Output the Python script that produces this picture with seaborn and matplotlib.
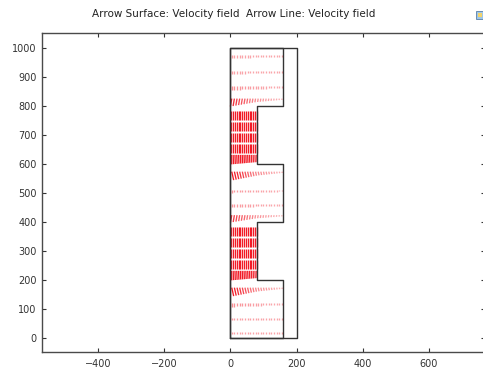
import numpy as np
import matplotlib
matplotlib.use("Agg")
import matplotlib.pyplot as plt
from matplotlib.patches import Rectangle
from matplotlib.collections import LineCollection
import seaborn as sns
import pandas as pd

# Channel outline: stepped inner channel and outer block
inner_x = [0, 160, 160, 80, 80, 160, 160, 80, 80, 160, 160, 0, 0]
inner_y = [0, 0, 200, 200, 400, 400, 600, 600, 800, 800, 1000, 1000, 0]
outer_x = [0, 200, 200, 0]
outer_y = [0, 0, 1000, 1000]

# Arrow rows: start height, channel width, arrow length at wall / middle / far side, sideways lean
row_y = [975, 920, 868, 826,
         782, 744, 706, 668, 632,
         574, 512, 462, 424,
         382, 344, 306, 268, 232,
         174, 120, 70, 22]
row_width = [160, 160, 160, 160,
             80, 80, 80, 80, 80,
             160, 160, 160, 160,
             80, 80, 80, 80, 80,
             160, 160, 160, 160]
len_wall = [8, 8, 12, 28,
            29, 29, 29, 29, 33,
            30, 10, 10, 26,
            29, 29, 29, 29, 33,
            30, 12, 9, 8]
len_mid = [7, 7, 8, 12,
           29, 29, 29, 29, 29,
           13, 8, 8, 11,
           29, 29, 29, 29, 29,
           13, 8, 8, 7]
len_far = [7, 7, 6, 4,
           29, 29, 29, 29, 25,
           4, 6, 6, 4,
           29, 29, 29, 29, 25,
           4, 6, 7, 7]
row_lean = [0, 0, 0, -0.15,
            0, 0, 0, 0, 0.03,
            0.2, 0, 0, -0.15,
            0, 0, 0, 0, 0.03,
            0.2, 0, 0, 0]

title = "Arrow Surface: Velocity field  Arrow Line: Velocity field"
xticks = [-400, -200, 0, 200, 400, 600]
yticks = [0, 100, 200, 300, 400, 500, 600, 700, 800, 900, 1000]

sns.set_theme(style="ticks")
plt.rcParams["font.family"] = ["DejaVu Sans"]

fig = plt.figure(figsize=(4.83, 3.70), dpi=100)
ax = fig.add_axes([0.087, 0.0486, 0.917, 0.862])

# Build the arrow field row by row (each arrow drawn as a shaft in data coordinates)
segs, cols = [], []
for y0, w, a, m, b, lean in zip(row_y, row_width, len_wall, len_mid, len_far, row_lean):
    step = 5.5 if w <= 80 else 8.0
    px = np.arange(step / 2, w, step)
    L = np.interp(px, [0, w / 2, w], [a, m, b])
    for x0, l in zip(px, L):
        segs.append([(x0, y0), (x0 + lean * l, y0 - l)])
        alpha = 0.3 + 0.7 * min(l / 28.0, 1.0) ** 1.5
        cols.append((0.95, 0.10, 0.15, alpha))

ax.add_collection(LineCollection(segs, colors=cols, linewidths=0.95,
                                 capstyle="butt", zorder=2))

outline_color = "#333333"
sns.lineplot(x=outer_x + [outer_x[0]], y=outer_y + [outer_y[0]], sort=False,
             estimator=None, color=outline_color, lw=1.0, ax=ax, zorder=3)
sns.lineplot(x=inner_x, y=inner_y, sort=False, estimator=None,
             color=outline_color, lw=1.0, ax=ax, zorder=3)

ax.set_xlim(-570, 770)
ax.set_ylim(-48, 1052)
ax.set_xticks(xticks)
ax.set_yticks(yticks)
ax.set_xlabel("")
ax.set_ylabel("")
ax.tick_params(direction="in", length=3, width=0.8, top=True, right=True,
               labelsize=7, colors="#333333", pad=4)
ax.tick_params(axis="x", pad=5)
for s in ax.spines.values():
    s.set_color("#4a4a4a")
    s.set_linewidth(1.0)

fig.text(234 / 483, 1 - 14 / 370, title, ha="center", va="center",
         fontsize=7.5, color="#222222")

# small legend icon in the corner
fig.patches.append(Rectangle((476 / 483, 1 - 19 / 370), 8 / 483, 8 / 370,
                             transform=fig.transFigure, facecolor="#9fc7e8",
                             edgecolor="#5a7fa8", lw=0.6))
fig.patches.append(Rectangle((478 / 483, 1 - 17 / 370), 4 / 483, 4 / 370,
                             transform=fig.transFigure, facecolor="#f3d36b",
                             edgecolor="none"))

fig.savefig("out.png", dpi=100)
